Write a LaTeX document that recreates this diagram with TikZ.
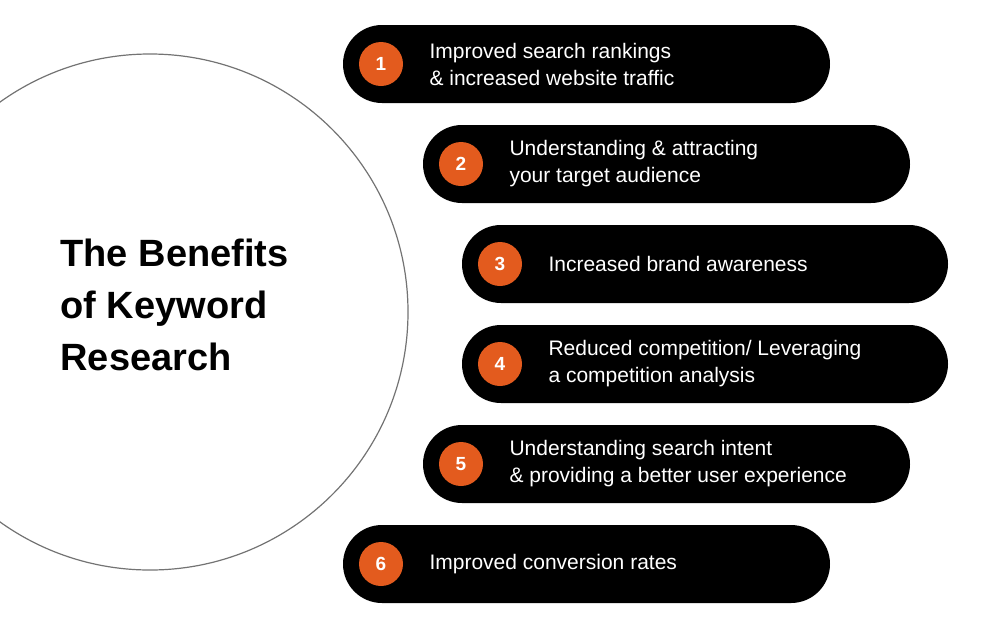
\documentclass[tikz,border=0pt]{standalone}
\usepackage{fontspec}
\setmainfont{Liberation Sans}
\definecolor{orng}{HTML}{E35B1E}
\begin{document}
\begin{tikzpicture}[x=1pt,y=-1pt,
  pill/.style={fill=black,rounded corners=39pt,minimum height=78pt,inner sep=0pt},
  num/.style={circle,fill=orng,minimum size=44pt,inner sep=0pt,text=white,font=\fontsize{19}{19}\selectfont\bfseries},
  lbl/.style={anchor=west,text=white,align=left,font=\fontsize{21}{27}\selectfont}]
\useasboundingbox (0,0) rectangle (982,622);
\clip (0,0) rectangle (982,622);
\node[circle,draw=black!55,line width=1.2pt,minimum size=516pt,inner sep=0pt] (big) at (150,312) {};
\node[anchor=west,align=left,font=\fontsize{38}{52}\selectfont\bfseries] (title) at (57,305) {The Benefits\\of Keyword\\Research};
\foreach \i/\xa/\xb/\y/\t in {
 1/343/830/64/{Improved search rankings\\\& increased website traffic},
 2/423/910/164/{Understanding \& attracting\\your target audience},
 3/462/948/264/{Increased brand awareness},
 4/462/948/364/{Reduced competition/ Leveraging\\a competition analysis},
 5/423/910/464/{Understanding search intent\\\& providing a better user experience},
 6/343/830/564/{Improved conversion rates}}{
  \path[pill] (\xa,\y-39) rectangle (\xb,\y+39);
  \node[num] (n\i) at (\xa+38,\y) {\i};
  \node[lbl] (t\i) at (\xa+83,\y) {\t};
}
\end{tikzpicture}
\end{document}
